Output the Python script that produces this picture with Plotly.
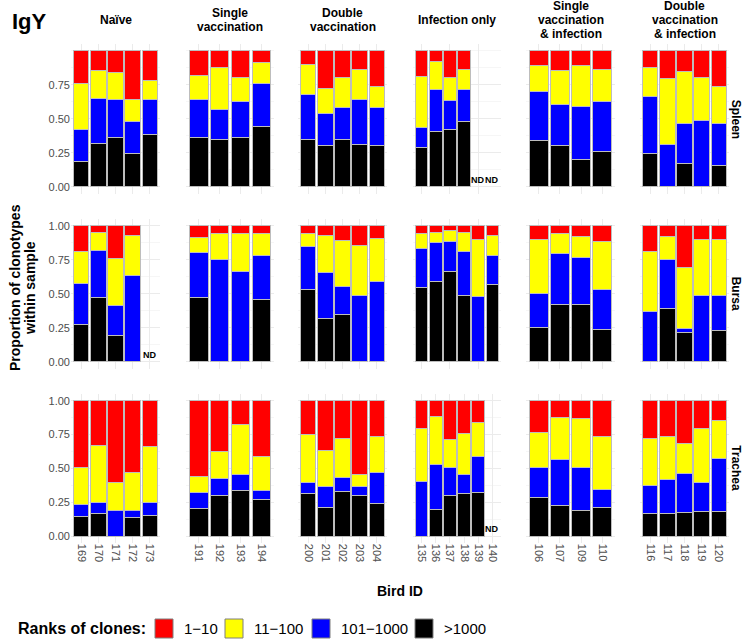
import plotly.graph_objs as go

# facet labels and bird IDs
tissues = ['Spleen', 'Bursa', 'Trachea']
groups = ['Naïve', 'Single<br>vaccination', 'Double<br>vaccination', 'Infection only',
          'Single<br>vaccination<br>& infection', 'Double<br>vaccination<br>& infection']
birds = [['169', '170', '171', '172', '173'],
         ['191', '192', '193', '194'],
         ['200', '201', '202', '203', '204'],
         ['135', '136', '137', '138', '139', '140'],
         ['106', '107', '109', '110'],
         ['116', '117', '118', '119', '120']]

# proportions per rank class, in the bird order above (None = ND)
spleen_gt1000 = [0.187, 0.319, 0.364, 0.248, 0.386, 0.366, 0.349, 0.366, 0.442, 0.351, 0.302, 0.351, 0.314, 0.302,
                 0.290, 0.405, 0.425, 0.484, None, None, 0.337, 0.307, 0.204, 0.263, 0.248, 0, 0.172, 0, 0.155]
spleen_101_1000 = [0.231, 0.332, 0.277, 0.229, 0.255, 0.273, 0.223, 0.265, 0.322, 0.332, 0.234, 0.234, 0.325, 0.285,
                   0.147, 0.310, 0.209, 0.233, None, None, 0.363, 0.302, 0.386, 0.368, 0.420, 0.314, 0.292, 0.486, 0.312]
spleen_11_100 = [0.339, 0.204, 0.199, 0.167, 0.145, 0.179, 0.308, 0.175, 0.150, 0.219, 0.189, 0.223, 0.228, 0.153,
                 0.376, 0.206, 0.169, 0.143, None, None, 0.192, 0.246, 0.302, 0.236, 0.214, 0.482, 0.386, 0.322, 0.275]
spleen_1_10 = [0.243, 0.145, 0.160, 0.356, 0.214, 0.182, 0.120, 0.194, 0.086, 0.098, 0.275, 0.192, 0.133, 0.260,
               0.187, 0.079, 0.197, 0.140, None, None, 0.108, 0.145, 0.108, 0.133, 0.118, 0.204, 0.150, 0.192, 0.258]

bursa_gt1000 = [0.277, 0.475, 0.191, 0, None, 0.471, 0, 0, 0.456, 0.532, 0.316, 0.350, 0, 0,
                0.542, 0.593, 0.662, 0.488, 0, 0.564, 0.255, 0.419, 0.417, 0.240, 0, 0.390, 0.211, 0, 0.228]
bursa_101_1000 = [0.301, 0.344, 0.221, 0.637, None, 0.330, 0.752, 0.662, 0.328, 0.318, 0.338, 0.206, 0.485, 0.588,
                  0.294, 0.280, 0.225, 0.323, 0.478, 0.220, 0.250, 0.375, 0.348, 0.294, 0.368, 0.358, 0.034, 0.485, 0.257]
bursa_11_100 = [0.236, 0.132, 0.348, 0.289, None, 0.113, 0.194, 0.284, 0.162, 0.096, 0.277, 0.334, 0.370, 0.321,
                0.108, 0.080, 0.079, 0.138, 0.422, 0.142, 0.390, 0.152, 0.154, 0.351, 0.443, 0.174, 0.446, 0.417, 0.412]
bursa_1_10 = [0.186, 0.049, 0.240, 0.074, None, 0.086, 0.054, 0.054, 0.054, 0.054, 0.069, 0.110, 0.145, 0.091,
              0.056, 0.047, 0.034, 0.051, 0.100, 0.074, 0.105, 0.054, 0.081, 0.115, 0.189, 0.078, 0.309, 0.098, 0.103]

trachea_gt1000 = [0.143, 0.167, 0, 0.135, 0.150, 0.200, 0.298, 0.333, 0.273, 0.315, 0.214, 0.328, 0.300, 0.239,
                  0, 0.195, 0.303, 0.313, 0.323, None, 0.283, 0.227, 0.187, 0.214, 0.170, 0.167, 0.177, 0.180, 0.182]
trachea_101_1000 = [0.091, 0.082, 0.192, 0.052, 0.101, 0.123, 0.128, 0.120, 0.067, 0.079, 0.155, 0.101, 0.067, 0.234,
                    0.401, 0.330, 0.204, 0.140, 0.268, None, 0.224, 0.337, 0.318, 0.131, 0.204, 0.249, 0.284, 0.214, 0.394]
trachea_11_100 = [0.271, 0.423, 0.205, 0.281, 0.414, 0.115, 0.195, 0.372, 0.246, 0.355, 0.266, 0.288, 0.091, 0.266,
                  0.397, 0.359, 0.205, 0.301, 0.246, None, 0.259, 0.308, 0.362, 0.389, 0.345, 0.316, 0.226, 0.399, 0.276]
trachea_1_10 = [0.495, 0.328, 0.603, 0.532, 0.335, 0.562, 0.379, 0.175, 0.414, 0.251, 0.365, 0.283, 0.542, 0.261,
                0.202, 0.116, 0.288, 0.246, 0.163, None, 0.234, 0.128, 0.133, 0.266, 0.281, 0.268, 0.313, 0.207, 0.148]

ranks = ['>1000', '101−1000', '11−100', '1−10']
colors = ['black', 'blue', 'yellow', 'red']
data_by_tissue = [[spleen_gt1000, spleen_101_1000, spleen_11_100, spleen_1_10],
                  [bursa_gt1000, bursa_101_1000, bursa_11_100, bursa_1_10],
                  [trachea_gt1000, trachea_101_1000, trachea_11_100, trachea_1_10]]

W, H = 744, 639
FONT = 'Liberation Sans, Arial, sans-serif'
col_px = [(71, 160), (186, 274), (298, 387), (413, 501), (526, 615), (640, 729)]
row_px = [(44.2, 193.5), (218.9, 368.5), (393.9, 542.8)]


def px(x):
    return x / W


def py(y):
    return 1 - y / H


def note(x, y, text, size, **kw):
    d = dict(x=px(x), y=py(y), xref='paper', yref='paper', text=text, showarrow=False,
             xanchor='center', yanchor='middle', font=dict(size=size, color='black'))
    d.update(kw)
    return d


traces = []
layout = dict(width=W, height=H, barmode='stack', showlegend=False,
              plot_bgcolor='white', paper_bgcolor='white',
              margin=dict(l=0, r=0, t=0, b=0, autoexpand=False), font=dict(family=FONT))
annotations = []
shapes = []

for r, tissue in enumerate(tissues):
    for c, ids in enumerate(birds):
        k = r * 6 + c + 1
        xa = 'x' if k == 1 else 'x%d' % k
        ya = 'y' if k == 1 else 'y%d' % k
        start = sum(len(b) for b in birds[:c])
        for series, name, col in zip(data_by_tissue[r], ranks, colors):
            vals = series[start:start + len(ids)]
            traces.append(go.Bar(x=ids, y=vals, name=name, width=0.9,
                                 marker=dict(color=col, line=dict(color='#bdbdbd', width=1)),
                                 xaxis=xa, yaxis=ya))
            if name == '>1000':
                # ND marker for birds with no sample (x given as category index)
                for i, v in enumerate(vals):
                    if v is None:
                        annotations.append(dict(x=i, y=0, xref=xa, yref=ya, text='<b>ND</b>',
                                                showarrow=False, xanchor='center', yanchor='bottom',
                                                font=dict(size=9, color='black')))
        tv = [0, 0.25, 0.5, 0.75] if r == 0 else [0, 0.25, 0.5, 0.75, 1]
        layout['xaxis' if k == 1 else 'xaxis%d' % k] = dict(
            domain=[px(col_px[c][0]), px(col_px[c][1])], anchor=ya, automargin=False,
            type='category', categoryorder='array', categoryarray=ids,
            range=[-0.6, len(ids) - 0.4], showgrid=True, gridcolor='#ebebeb',
            zeroline=False, showline=False, ticks='', tickangle=90,
            showticklabels=(r == 2), tickfont=dict(size=11, color='#4d4d4d'))
        layout['yaxis' if k == 1 else 'yaxis%d' % k] = dict(
            domain=[py(row_px[r][1]), py(row_px[r][0])], anchor=xa, automargin=False,
            range=[-0.05, 1.05], tickvals=tv, ticktext=['%.2f' % t for t in tv],
            showgrid=True, gridcolor='#ebebeb', zeroline=False, showline=False, ticks='',
            minor=dict(dtick=0.125, tick0=0, showgrid=True, gridcolor='#f6f6f6'),
            showticklabels=(c == 0), tickfont=dict(size=11, color='#4d4d4d'))

# column strips, one annotation per line so the spacing matches
for c, g in enumerate(groups):
    lines = g.split('<br>')
    for i, line in enumerate(lines):
        yc = 20 + (i - (len(lines) - 1) / 2) * 14
        annotations.append(note((col_px[c][0] + col_px[c][1]) / 2, yc, '<b>%s</b>' % line, 12))
# row strips
for r, t in enumerate(tissues):
    annotations.append(note(736, (row_px[r][0] + row_px[r][1]) / 2, '<b>%s</b>' % t, 12, textangle=90))

annotations += [
    note(29, 21, '<b>IgY</b>', 22),
    note(15, 288, '<b>Proportion of clonotypes</b>', 14, textangle=-90),
    note(30, 288, '<b>within sample</b>', 14, textangle=-90),
    note(400, 591, '<b>Bird ID</b>', 14),
    note(16, 628, '<b>Ranks of clones:</b>', 16, xanchor='left'),
]

# legend keys
key_x = [155, 225, 312, 415]
for kx, name, col in zip(key_x, ranks[::-1], colors[::-1]):
    shapes.append(dict(type='rect', xref='paper', yref='paper', x0=px(kx), x1=px(kx + 18),
                       y0=py(638), y1=py(619), fillcolor=col, line=dict(color='#7f7f7f', width=1)))
    annotations.append(note(kx + 27, 628, name, 15, xanchor='left'))

layout['annotations'] = annotations
layout['shapes'] = shapes

fig = go.Figure(data=traces, layout=go.Layout(**layout))
fig.write_html('out.html', config={'displayModeBar': False},
               post_script="document.body.style.margin='0';")
